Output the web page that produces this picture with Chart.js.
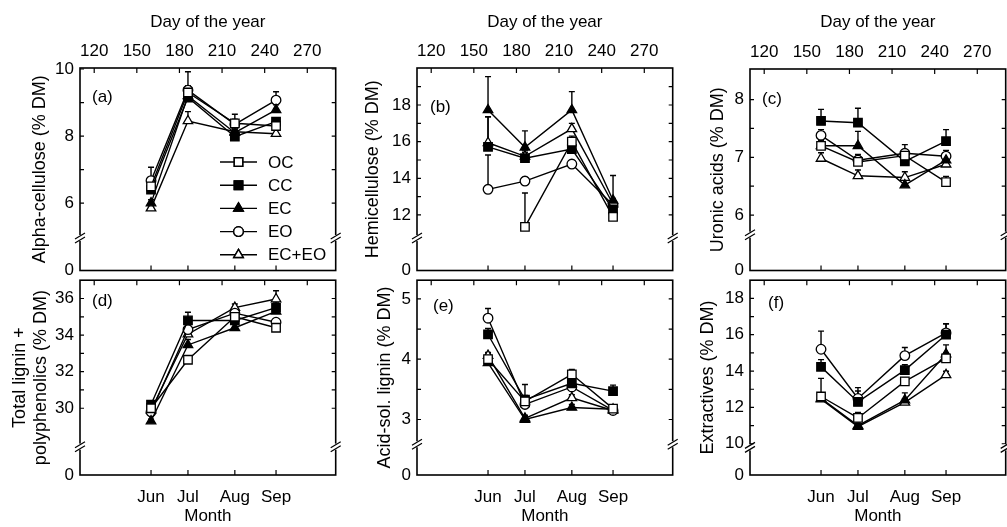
<!DOCTYPE html>
<html>
<head>
<meta charset="utf-8">
<script src="https://cdn.jsdelivr.net/npm/chart.js@4"></script>
<style>
  body { margin: 0; background: #fff; width: 1007px; height: 527px; position: relative; overflow: hidden; }
  canvas { position: absolute; }
</style>
</head>
<body>
<script>
// sampling days and labels
const days = [160, 186, 219, 248];
const months = ['Jun', 'Jul', 'Aug', 'Sep'];
const dayTicks = [120, 150, 180, 210, 240, 270];
const seriesNames = ['OC', 'CC', 'EC', 'EO', 'EC+EO'];

// values per panel, rows in the order of seriesNames, columns Jun..Sep
const alphaVals = [
  [6.5, 9.3, 8.38, 8.3],
  [6.4, 9.15, 7.98, 8.43],
  [6.0, 9.2, 8.1, 8.78],
  [6.67, 9.37, 8.35, 9.07],
  [5.85, 8.45, 8.13, 8.07]
];
const alphaErr = [
  [0.2, 0.2, 0.27, 0.1],
  [0.1, 0.1, 0.1, 0.1],
  [0.1, 0.1, 0.1, 0.15],
  [0.4, 0.55, 0.15, 0.25],
  [0.1, 0.28, 0.1, 0.1]
];

const hemiVals = [
  [null, 11.35, 16.0, 11.9],
  [15.72, 15.1, 15.6, 12.3],
  [17.73, 15.69, 17.73, 12.8],
  [13.4, 13.85, 14.78, 12.55],
  [15.94, 15.2, 16.7, 12.6]
];
const hemiErr = [
  [0, 1.85, 0.3, 0.2],
  [1.64, 0.3, 0.3, 0.3],
  [1.82, 0.9, 1.0, 1.35],
  [1.87, 0.2, 0.2, 0.2],
  [1.42, 0.3, 0.3, 0.3]
];

const uronicVals = [
  [7.2, 6.92, 7.03, 6.57],
  [7.63, 7.6, 6.93, 7.28],
  [7.2, 7.2, 6.52, 6.95],
  [7.38, 6.95, 7.07, 7.02],
  [6.98, 6.68, 6.65, 6.88]
];
const uronicErr = [
  [0.1, 0.1, 0.1, 0.1],
  [0.2, 0.25, 0.1, 0.2],
  [0.1, 0.25, 0.1, 0.1],
  [0.1, 0.1, 0.15, 0.1],
  [0.1, 0.1, 0.1, 0.1]
];

const ligninVals = [
  [30.0, 32.65, 35.0, 34.4],
  [30.2, 34.8, 34.8, 35.5],
  [29.3, 33.46, 34.4, 35.3],
  [29.8, 34.3, 35.2, 34.7],
  [29.9, 34.05, 35.5, 35.97]
];
const ligninErr = [
  [0.1, 0.2, 0.2, 0.2],
  [0.15, 0.45, 0.2, 0.3],
  [0.1, 0.3, 0.2, 0.3],
  [0.1, 0.2, 0.3, 0.2],
  [0.1, 0.2, 0.2, 0.45]
];

const acidVals = [
  [4.0, 3.3, 3.75, 3.18],
  [4.41, 3.33, 3.6, 3.47],
  [3.94, 3.0, 3.2, 3.17],
  [4.68, 3.25, 3.54, 3.15],
  [4.06, 3.02, 3.36, 3.15]
];
const acidErr = [
  [0.1, 0.1, 0.08, 0.05],
  [0.1, 0.25, 0.1, 0.1],
  [0.05, 0.05, 0.05, 0.05],
  [0.16, 0.1, 0.1, 0.05],
  [0.05, 0.05, 0.05, 0.05]
];

const extrVals = [
  [12.6, 11.42, 13.43, 14.7],
  [14.23, 12.3, 14.05, 16.0],
  [12.5, 11.0, 12.4, 14.94],
  [15.2, 12.49, 14.85, 16.1],
  [12.45, 10.94, 12.28, 13.79]
];
const extrErr = [
  [0.2, 0.3, 0.2, 0.3],
  [0.4, 0.6, 0.3, 0.6],
  [1.1, 0.3, 0.4, 0.5],
  [1.0, 0.6, 0.45, 0.5],
  [0.2, 0.2, 0.2, 0.2]
];

// y tick labels (the axis bottom is always labelled 0, below a break)
const alphaTicks = [6, 8, 10];
const hemiTicks = [12, 14, 16, 18];
const uronicTicks = [6, 7, 8];
const ligninTicks = [30, 32, 34, 36];
const acidTicks = [3, 4, 5];
const extrTicks = [10, 12, 14, 16, 18];

Chart.defaults.font.family = '"Liberation Sans", Arial, Helvetica, sans-serif';
Chart.defaults.font.size = 17;
Chart.defaults.color = '#000';

const styles = [
  { pointStyle: 'rect', fill: '#fff', r: 6 },
  { pointStyle: 'rect', fill: '#000', r: 6 },
  { pointStyle: 'triangle', fill: '#000', r: 5.5 },
  { pointStyle: 'circle', fill: '#fff', r: 4.8 },
  { pointStyle: 'triangle', fill: '#fff', r: 5.5 }
];

const panels = [
  { vals: alphaVals, err: alphaErr, ticks: alphaTicks, minor: [7, 9], min: 3.99, max: 10.03, brk: 4.96,
    title: 'Alpha-cellulose (% DM)', col: 0, row: 0, titlePad: 29, tag: '(a)', tagX: 12, tagY: 29, legend: true },
  { vals: hemiVals, err: hemiErr, ticks: hemiTicks, minor: [13, 15, 17, 19], min: 8.97, max: 20.02, brk: 10.74,
    title: 'Hemicellulose (% DM)', col: 1, row: 0, titlePad: 25, tag: '(b)', tagX: 13, tagY: 39 },
  { vals: uronicVals, err: uronicErr, ticks: uronicTicks, minor: [6.5, 7.5], min: 5.04, max: 8.53, brk: 5.66,
    title: 'Uronic acids (% DM)', col: 2, row: 0, titlePad: 37, tag: '(c)', tagX: 12, tagY: 30 },
  { vals: ligninVals, err: ligninErr, ticks: ligninTicks, minor: [31, 33, 35], min: 26.35, max: 37.0, brk: 27.9,
    title: ['Total lignin +', 'polyphenolics (% DM)'], col: 0, row: 1, titlePad: 9, tag: '(d)', tagX: 12, tagY: 21 },
  { vals: acidVals, err: acidErr, ticks: acidTicks, minor: [3.5, 4.5], min: 2.08, max: 5.31, brk: 2.59,
    title: 'Acid-sol. lignin (% DM)', col: 1, row: 1, titlePad: 37, tag: '(e)', tagX: 16, tagY: 26 },
  { vals: extrVals, err: extrErr, ticks: extrTicks, minor: [11, 13, 15, 17], min: 8.28, max: 19.0, brk: 9.8,
    title: 'Extractives (% DM)', col: 2, row: 1, titlePad: 27, tag: '(f)', tagX: 18, tagY: 23 }
];

const plotLefts = [80, 417, 750];
const plotW = 263;

function breakMark(ctx, x, y) {
  ctx.fillStyle = '#fff';
  ctx.fillRect(x - 2, y - 3, 4, 6);
  ctx.beginPath();
  ctx.moveTo(x - 5, y + 1); ctx.lineTo(x + 5, y - 5);
  ctx.moveTo(x - 5, y + 5); ctx.lineTo(x + 5, y - 1);
  ctx.stroke();
}

function panelPlugin(p) {
  return {
    id: 'panelDecor',
    beforeDatasetsDraw(chart) {
      // upward error bars (+SD)
      const ctx = chart.ctx, xs = chart.scales.x, ys = chart.scales.y;
      ctx.save();
      ctx.strokeStyle = '#000';
      ctx.lineWidth = 1.4;
      p.err.forEach((row, i) => row.forEach((e, j) => {
        const v = p.vals[i][j];
        if (v == null || !e) return;
        const px = xs.getPixelForValue(days[j]);
        const y0 = ys.getPixelForValue(v), y1 = ys.getPixelForValue(v + e);
        ctx.beginPath();
        ctx.moveTo(px, y0); ctx.lineTo(px, y1);
        ctx.moveTo(px - 3, y1); ctx.lineTo(px + 3, y1);
        ctx.stroke();
      }));
      ctx.restore();
    },
    afterDraw(chart) {
      const ctx = chart.ctx, a = chart.chartArea;
      const xs = chart.scales.x, ys = chart.scales.y;
      ctx.save();
      ctx.strokeStyle = '#000';
      ctx.lineWidth = 1.6;
      ctx.strokeRect(a.left, a.top, a.right - a.left, a.bottom - a.top);

      // inward ticks
      ctx.lineWidth = 1.2;
      ctx.beginPath();
      p.ticks.concat(p.minor).forEach(v => {
        const y = ys.getPixelForValue(v);
        ctx.moveTo(a.left, y); ctx.lineTo(a.left + 4, y);
        ctx.moveTo(a.right, y); ctx.lineTo(a.right - 4, y);
      });
      days.forEach(d => {
        const x = xs.getPixelForValue(d);
        ctx.moveTo(x, a.bottom); ctx.lineTo(x, a.bottom - 5);
      });
      dayTicks.forEach(d => {
        const x = xs.getPixelForValue(d);
        ctx.moveTo(x, a.top); ctx.lineTo(x, a.top + 5);
      });
      ctx.stroke();

      // axis breaks
      const by = ys.getPixelForValue(p.brk);
      breakMark(ctx, a.left, by);
      breakMark(ctx, a.right, by);

      // panel tag
      ctx.fillStyle = '#000';
      ctx.font = '17px "Liberation Sans", Arial, sans-serif';
      ctx.textBaseline = 'middle';
      ctx.textAlign = 'left';
      ctx.fillText(p.tag, a.left + p.tagX, a.top + p.tagY);

      // legend (panel a only)
      if (p.legend) {
        chart.data.datasets.forEach((ds, i) => {
          const y = 162 + i * 23.2;
          ctx.strokeStyle = '#000';
          ctx.lineWidth = 1.4;
          ctx.beginPath();
          ctx.moveTo(220, y); ctx.lineTo(257, y);
          ctx.stroke();
          ctx.fillStyle = ds.pointBackgroundColor;
          Chart.helpers.drawPoint(ctx, { pointStyle: ds.pointStyle, radius: ds.pointRadius, rotation: 0, borderWidth: 1.3 }, 238.5, y);
          ctx.fill();
          ctx.stroke();
          ctx.fillStyle = '#000';
          ctx.fillText(ds.label, 268, y + 1);
        });
      }
      ctx.restore();
    }
  };
}

panels.forEach(p => {
  const top = p.row === 0 ? 0 : 264;
  const h = p.row === 0 ? 290 : 263;
  const w = 80 + plotW;
  const cv = document.createElement('canvas');
  cv.width = w; cv.height = h;
  cv.style.left = (plotLefts[p.col] - 80) + 'px';
  cv.style.top = top + 'px';
  cv.style.width = w + 'px';
  cv.style.height = h + 'px';
  document.body.appendChild(cv);

  const datasets = seriesNames.map((name, i) => ({
    label: name,
    data: days.map((d, j) => ({ x: d, y: p.vals[i][j] })),
    borderColor: '#000',
    borderWidth: 1.4,
    pointStyle: styles[i].pointStyle,
    pointRadius: styles[i].r,
    pointBackgroundColor: styles[i].fill,
    pointBorderColor: '#000',
    pointBorderWidth: 1.3,
    tension: 0,
    spanGaps: false
  }));

  const topH = p.row === 0 ? (p.col === 2 ? 69 : 68) : 10;
  const bottomH = p.row === 0 ? 19.5 : 52;

  new Chart(cv.getContext('2d'), {
    type: 'line',
    data: { datasets },
    options: {
      responsive: false,
      animation: false,
      events: [],
      layout: { padding: 0 },
      plugins: { legend: { display: false }, tooltip: { enabled: false } },
      scales: {
        x: {
          type: 'linear', position: 'bottom', min: 110, max: 290,
          grid: { display: false, drawTicks: false }, border: { display: false },
          afterBuildTicks: s => { s.ticks = days.map(v => ({ value: v })); },
          ticks: { display: p.row === 1, autoSkip: false, maxRotation: 0, padding: 12,
                   callback: v => months[days.indexOf(v)] },
          title: { display: p.row === 1, text: 'Month', padding: { top: 0, bottom: 0 } },
          afterFit: s => { s.height = bottomH; }
        },
        x2: {
          type: 'linear', position: 'top', min: 110, max: 290,
          grid: { display: false, drawTicks: false }, border: { display: false },
          afterBuildTicks: s => { s.ticks = dayTicks.map(v => ({ value: v })); },
          ticks: { display: p.row === 0, autoSkip: false, maxRotation: 0, padding: 6 },
          title: { display: p.row === 0, text: 'Day of the year', padding: { top: 12, bottom: 0 } },
          afterFit: s => { s.height = topH; }
        },
        y: {
          type: 'linear', position: 'left', min: p.min, max: p.max,
          grid: { display: false, drawTicks: false }, border: { display: false },
          afterBuildTicks: s => { s.ticks = [p.min].concat(p.ticks).map(v => ({ value: v })); },
          ticks: { autoSkip: false, padding: 6, callback: v => (v === p.min ? '0' : String(v)) },
          title: { display: true, text: p.title, font: { size: 18 }, padding: { top: p.titlePad, bottom: 0 } },
          afterFit: s => { s.width = 80; }
        }
      }
    },
    plugins: [panelPlugin(p)]
  });
});
</script>
</body>
</html>
